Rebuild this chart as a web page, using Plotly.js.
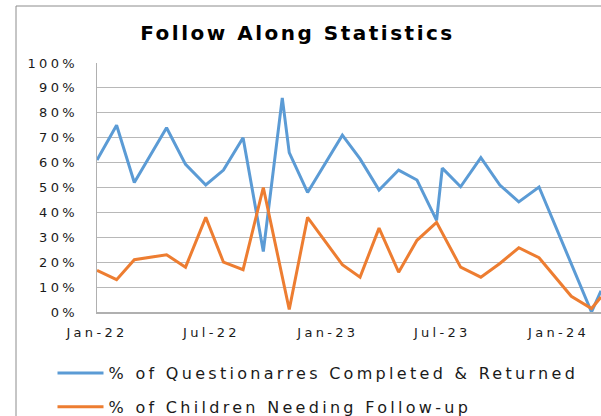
<!DOCTYPE html>
<html>
<head>
<meta charset="utf-8">
<script src="https://cdn.plot.ly/plotly-3.0.1.min.js"></script>
<style>
  html, body { margin: 0; padding: 0; background: #fff; }
  #chart { width: 601px; height: 416px; }
  .xtick text, .ytick text { letter-spacing: 3.3px; }
  .legendtext { letter-spacing: 3.3px; }
  .gtitle { letter-spacing: 2.5px; }
</style>
</head>
<body>
<div id="chart"></div>
<script>
// Dates of each survey point (read from the horizontal positions)
const dates = [
  '2022-01-01','2022-02-01','2022-03-01','2022-04-21','2022-05-21','2022-06-22',
  '2022-07-20','2022-08-20','2022-09-21','2022-10-21','2022-11-01','2022-11-30',
  '2023-01-24','2023-02-21','2023-03-23','2023-04-23','2023-05-22','2023-06-22',
  '2023-07-01','2023-07-30','2023-08-31','2023-09-30','2023-10-30','2023-12-01',
  '2024-01-21','2024-02-22','2024-03-08'
];
// % of Questionarres Completed & Returned (fraction)
const completed = [
  0.61, 0.75, 0.52, 0.74, 0.593, 0.51,
  0.57, 0.70, 0.243, 0.86, 0.64, 0.48,
  0.71, 0.615, 0.49, 0.57, 0.53, 0.368,
  0.578, 0.503, 0.62, 0.51, 0.442, 0.502,
  null, 0.0, 0.085
];
// % of Children Needing Follow-up (fraction)
const followUp = [
  0.167, 0.13, 0.21, 0.23, 0.18, 0.38,
  0.20, 0.17, 0.50, null, 0.01, 0.38,
  0.19, 0.14, 0.337, 0.16, 0.288, 0.36,
  null, 0.18, 0.14, 0.195, 0.258, 0.218,
  0.063, 0.014, 0.06
];
const seriesNames = ['% of Questionarres Completed & Returned', '% of Children Needing Follow-up'];
const tickDates = ['2022-01-01','2022-07-01','2023-01-01','2023-07-01','2024-01-01'];
const tickLabels = ['Jan-22','Jul-22','Jan-23','Jul-23','Jan-24'];
const yTicks = [0,0.1,0.2,0.3,0.4,0.5,0.6,0.7,0.8,0.9,1.0];
const yTickLabels = ['0%','10%','20%','30%','40%','50%','60%','70%','80%','90%','100%'];

const FONT = 'DejaVu Sans, Liberation Sans, sans-serif';

const traces = [
  {
    x: dates, y: completed, name: seriesNames[0], type: 'scatter', mode: 'lines',
    connectgaps: true, legendgroup: 'a',
    line: { color: '#5b9bd5', width: 3 }
  },
  {
    x: dates, y: followUp, name: seriesNames[1], type: 'scatter', mode: 'lines',
    connectgaps: true, legendgroup: 'b',
    line: { color: '#ed7d31', width: 3 }
  }
];

const layout = {
  width: 601, height: 416,
  margin: { l: 97, r: 0, t: 63, b: 104, pad: 0, autoexpand: false },
  paper_bgcolor: '#ffffff', plot_bgcolor: '#ffffff',
  font: { family: FONT, color: '#1a1a1a' },
  title: {
    text: '<b>Follow Along Statistics</b>',
    font: { family: FONT, size: 20, color: '#000000' },
    xref: 'container', x: 0.495, xanchor: 'center',
    yref: 'container', y: 1 - 33/416, yanchor: 'middle'
  },
  xaxis: {
    type: 'date',
    range: ['2022-01-01', '2024-03-08'],
    tickvals: tickDates, ticktext: tickLabels,
    showgrid: false, zeroline: false,
    showline: true, linecolor: '#b0b0b0', linewidth: 1.5,
    ticks: '', ticklabelstandoff: 8,
    tickfont: { family: FONT, size: 13, color: '#1a1a1a' },
    fixedrange: true
  },
  yaxis: {
    range: [0, 1],
    tickvals: yTicks, ticktext: yTickLabels,
    showgrid: true, gridcolor: '#b8b8b8', gridwidth: 1,
    zeroline: false,
    showline: true, linecolor: '#b0b0b0', linewidth: 1.5,
    ticks: '', ticklabelstandoff: 15,
    tickfont: { family: FONT, size: 13, color: '#1a1a1a' },
    fixedrange: true
  },
  showlegend: true,
  legend: {
    x: (52.5 - 97) / 504, xanchor: 'left',
    y: (312 - 356) / 249, yanchor: 'top',
    orientation: 'v',
    traceorder: 'grouped',
    tracegroupgap: 10,
    itemwidth: 46,
    bgcolor: 'rgba(0,0,0,0)',
    font: { family: FONT, size: 16, color: '#1a1a1a' }
  },
  shapes: [
    { type: 'line', xref: 'paper', yref: 'paper',
      x0: (16 - 97) / 504, x1: (16 - 97) / 504, y0: (312 - 6) / 249, y1: (312 - 420) / 249,
      line: { color: '#8c8c8c', width: 1 } },
    { type: 'line', xref: 'paper', yref: 'paper',
      x0: (16 - 97) / 504, x1: 1.02, y0: (312 - 6) / 249, y1: (312 - 6) / 249,
      line: { color: '#8c8c8c', width: 1 } }
  ]
};

Plotly.newPlot('chart', traces, layout, { displayModeBar: false, staticPlot: true });
</script>
</body>
</html>
